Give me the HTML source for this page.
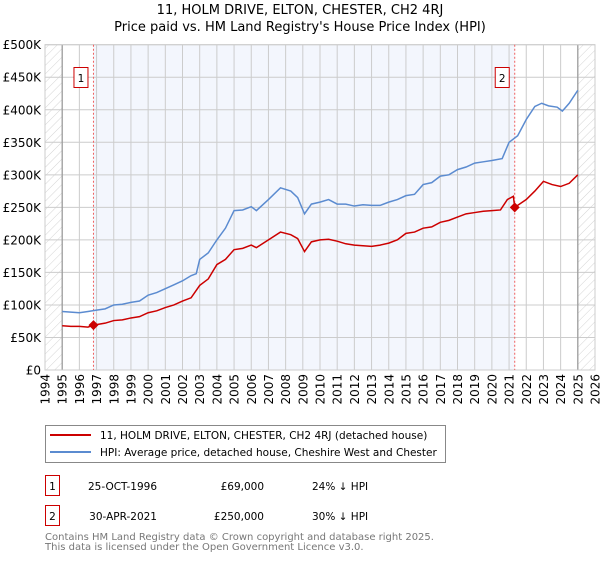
<!DOCTYPE html>
<html><head><meta charset="utf-8"><style>
body{margin:0;background:#fff;font-family:"DejaVu Sans","Liberation Sans",sans-serif;}
svg text{font-family:"DejaVu Sans","Liberation Sans",sans-serif;}
</style></head><body>
<svg id="chart" width="600" height="560" xmlns="http://www.w3.org/2000/svg">
<defs><pattern id="hatch" width="6" height="6" patternUnits="userSpaceOnUse" patternTransform="rotate(45)"><line x1="0" y1="0" x2="0" y2="6" stroke="#d4d4d4" stroke-width="1"/></pattern></defs>
<text x="300" y="14" text-anchor="middle" font-size="13">11, HOLM DRIVE, ELTON, CHESTER, CH2 4RJ</text>
<text x="300" y="31" text-anchor="middle" font-size="13">Price paid vs. HM Land Registry's House Price Index (HPI)</text>
<g id="plot"></g>
<g>
<rect x="45.5" y="425.5" width="400" height="37" fill="#fff" stroke="#888"/>
<line x1="50" y1="435" x2="91" y2="435" stroke="#cc0000" stroke-width="2"/>
<text x="100" y="439" font-size="10.5">11, HOLM DRIVE, ELTON, CHESTER, CH2 4RJ (detached house)</text>
<line x1="50" y1="452" x2="91" y2="452" stroke="#5b8bd0" stroke-width="2"/>
<text x="100" y="456" font-size="10.5">HPI: Average price, detached house, Cheshire West and Chester</text>
</g>
<g font-size="10.5">
<rect x="45.5" y="475.5" width="14" height="20" fill="#fff" stroke="#cc0000"/>
<text x="52.5" y="490" text-anchor="middle">1</text>
<text x="157" y="490" text-anchor="end">25-OCT-1996</text>
<text x="264" y="490" text-anchor="end">£69,000</text>
<text x="312" y="490">24% ↓ HPI</text>
<rect x="45.5" y="505.5" width="14" height="20" fill="#fff" stroke="#cc0000"/>
<text x="52.5" y="520" text-anchor="middle">2</text>
<text x="157" y="520" text-anchor="end">30-APR-2021</text>
<text x="264" y="520" text-anchor="end">£250,000</text>
<text x="312" y="520">30% ↓ HPI</text>
</g>
<text x="45" y="540" font-size="10" fill="#777">Contains HM Land Registry data © Crown copyright and database right 2025.</text>
<text x="45" y="550" font-size="10" fill="#777">This data is licensed under the Open Government Licence v3.0.</text>
</svg>
<script>
const hpiYears=[1995,1995.5,1996,1996.5,1997,1997.5,1998,1998.5,1999,1999.5,2000,2000.5,2001,2001.5,2002,2002.5,2002.8,2003,2003.5,2004,2004.5,2005,2005.5,2006,2006.3,2007,2007.7,2008.3,2008.7,2009.1,2009.5,2010,2010.5,2011,2011.5,2012,2012.5,2013,2013.5,2014,2014.5,2015,2015.5,2016,2016.5,2017,2017.5,2018,2018.5,2019,2019.5,2020,2020.6,2021,2021.5,2022,2022.5,2022.9,2023.3,2023.8,2024.1,2024.5,2025];
const hpiValues=[90,89,88,90,92,94,100,101,104,106,115,119,125,131,137,145,148,170,180,200,218,245,246,251,245,262,280,275,265,240,255,258,262,255,255,252,254,253,253,258,262,268,270,285,288,298,300,308,312,318,320,322,325,350,360,385,405,410,406,404,398,410,430];
const priceYears=[1995,1995.5,1996,1996.5,1996.82,1997.5,1998,1998.5,1999,1999.5,2000,2000.5,2001,2001.5,2002,2002.5,2003,2003.5,2004,2004.5,2005,2005.5,2006,2006.3,2007,2007.7,2008.3,2008.7,2009.1,2009.5,2010,2010.5,2011,2011.5,2012,2012.5,2013,2013.5,2014,2014.5,2015,2015.5,2016,2016.5,2017,2017.5,2018,2018.5,2019,2019.5,2020,2020.5,2020.9,2021.25,2021.33,2022,2022.5,2023,2023.5,2024,2024.5,2025];
const priceValues=[68,67,67,66,69,72,76,77,80,82,88,91,96,100,106,111,130,140,162,170,185,187,192,188,200,212,208,202,182,197,200,201,198,194,192,191,190,192,195,200,210,212,218,220,227,230,235,240,242,244,245,246,262,267,250,262,275,290,285,282,287,300];
const sales=[{label:"1",year:1996.82,value:69},{label:"2",year:2021.33,value:250}];
const yTicks=[0,50,100,150,200,250,300,350,400,450,500];
const yTickLabels=["£0","£50K","£100K","£150K","£200K","£250K","£300K","£350K","£400K","£450K","£500K"];
const xTicks=[1994,1995,1996,1997,1998,1999,2000,2001,2002,2003,2004,2005,2006,2007,2008,2009,2010,2011,2012,2013,2014,2015,2016,2017,2018,2019,2020,2021,2022,2023,2024,2025,2026];

const L=45,R=595,T=44.7,B=370;
const x=y=>L+(y-1994)/32*(R-L);
const yS=v=>B-v/500*(B-T);
const NS="http://www.w3.org/2000/svg";
const g=document.getElementById('plot');
function mk(tag,attrs,parent){const e=document.createElementNS(NS,tag);for(const k in attrs)e.setAttribute(k,attrs[k]);(parent||g).appendChild(e);return e;}

let e;
e=mk('rect',{x:x(sales[0].year),y:T,width:x(sales[1].year)-x(sales[0].year),height:B-T,fill:'#f3f6fd'});


e=mk('rect',{x:L,y:T,width:x(1995)-L,height:B-T,fill:'url(#hatch)'});


e=mk('rect',{x:x(2025),y:T,width:R-x(2025),height:B-T,fill:'url(#hatch)'});


yTicks.forEach((v,i)=>{
  e=mk('line',{x1:L,x2:R,y1:yS(v),y2:yS(v),stroke:'#ccc','stroke-width':1});
  
  
  e=mk('text',{x:L-4,y:yS(v)+4.5,'text-anchor':'end','font-size':'12'});
  e.textContent=yTickLabels[i];
  
  
});
xTicks.forEach(yr=>{
  e=mk('line',{x1:x(yr),x2:x(yr),y1:T,y2:B,stroke:'#ccc','stroke-width':1});
  
  
  e=mk('text',{x:0,y:0,'text-anchor':'end','font-size':'12',transform:`translate(${x(yr)+4.5},${B+4}) rotate(-90)`});
  e.textContent=yr;
  
  
});
[1995,2025].forEach(yr=>{
  e=mk('line',{x1:x(yr),x2:x(yr),y1:T,y2:B,stroke:'#999','stroke-width':1.2});
  
  
});
e=mk('rect',{x:L,y:T,width:R-L,height:B-T,fill:'none',stroke:'#ccc'});


sales.forEach(s=>{
  e=mk('line',{x1:x(s.year),x2:x(s.year),y1:T,y2:B,stroke:'#f06060','stroke-width':1,'stroke-dasharray':'2,2'});
  
  
});
e=mk('polyline',{points:hpiYears.map((yr,i)=>x(yr)+','+yS(hpiValues[i])).join(' '),fill:'none',stroke:'#5b8bd0','stroke-width':1.5});


e=mk('polyline',{points:priceYears.map((yr,i)=>x(yr)+','+yS(priceValues[i])).join(' '),fill:'none',stroke:'#cc0000','stroke-width':1.5});


sales.forEach(s=>{
  const cx=x(s.year),cy=yS(s.value);
  e=mk('polygon',{points:`${cx},${cy-5} ${cx+5},${cy} ${cx},${cy+5} ${cx-5},${cy}`,fill:'#cc0000'});
  
  
  e=mk('rect',{x:cx-19.5,y:67.5,width:14,height:20,fill:'#fff',stroke:'#cc0000'});
  
  
  e=mk('text',{x:cx-12.5,y:82,'text-anchor':'middle','font-size':'10.5'});
  e.textContent=s.label;
  
  
});
</script>
</body></html>
